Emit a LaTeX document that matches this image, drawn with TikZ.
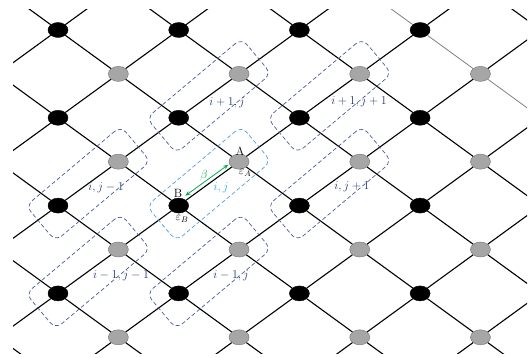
\documentclass[tikz,border=0pt]{standalone}
\usepackage{amsmath}
\usepackage{xcolor}
\usepackage{tikz}
\usetikzlibrary{calc,shapes.geometric,arrows.meta}

\definecolor{dotgray}{RGB}{166,166,166}
\definecolor{dotedge}{RGB}{125,125,125}
\definecolor{boxblue}{RGB}{72,92,150}
\definecolor{lblblue}{RGB}{32,56,120}
\definecolor{ijbox}{RGB}{80,160,220}
\definecolor{ijtext}{RGB}{30,170,230}
\definecolor{betagreen}{RGB}{0,170,80}

\begin{document}
\begin{tikzpicture}[
x=1pt, y=-1pt,
blackdot/.style={draw=black, fill=black, ellipse, minimum width=20pt, minimum height=15pt, inner sep=0pt},
graydot/.style={draw=dotedge, fill=dotgray, ellipse, line width=0.5pt, minimum width=20pt, minimum height=15pt, inner sep=0pt},
gridline/.style={line width=1.1pt},
faintline/.style={line width=0.8pt, draw=black!50},
pairbox/.style={draw=boxblue, dash pattern=on 4pt off 2.5pt, line width=0.7pt, rounded corners=8pt, minimum width=124pt, minimum height=46pt, rotate=40},
lbl/.style={text=lblblue, font=\fontsize{12.5}{14}\selectfont},
tag/.style={font=\fontsize{12}{14}\selectfont},
betaarrow/.style={{Stealth[length=5pt,width=4pt]}-{Stealth[length=5pt,width=4pt]}, draw=betagreen, line width=0.8pt}
]
\useasboundingbox (0,0) rectangle (529,358);

% sites
\foreach \k in {1,3,5,7}
  \foreach \m in {1,3,5,7}
    \node[blackdot] (n-\k-\m) at ({-2.35+60.35*\k},{-13.9+43.9*\m}) {};
\foreach \k in {2,4,6,8}
  \foreach \m in {2,4,6,8}
    \node[graydot] (n-\k-\m) at ({-2.35+60.35*\k},{-13.9+43.9*\m}) {};

% points outside the frame
\foreach \k/\m in {0/0,0/2,0/4,0/6,0/8,2/0,4/0,6/0,8/0,9/1,9/3,9/5,9/7,9/9,1/9,3/9,5/9,7/9}
  \coordinate (n-\k-\m) at ({-2.35+60.35*\k},{-13.9+43.9*\m});

% bonds
\begin{scope}
\clip (13,10) rectangle (527,353);
\foreach \k in {0,...,8}
  \foreach \m in {0,...,8} {
    \pgfmathtruncatemacro\pty{mod(\k+\m,2)}
    \ifnum\pty=0
      \pgfmathtruncatemacro\kk{\k+1}
      \pgfmathtruncatemacro\mm{\m+1}
      \pgfmathtruncatemacro\dd{\m-\k}
      \ifnum\dd=-6
        \draw[faintline] (n-\k-\m) -- (n-\kk-\mm);
      \else
        \draw[gridline] (n-\k-\m) -- (n-\kk-\mm);
      \fi
    \fi
  }
\foreach \k in {0,...,8}
  \foreach \m in {1,...,9} {
    \pgfmathtruncatemacro\pty{mod(\k+\m,2)}
    \ifnum\pty=0
      \pgfmathtruncatemacro\kk{\k+1}
      \pgfmathtruncatemacro\mm{\m-1}
      \draw[gridline] (n-\k-\m) -- (n-\kk-\mm);
    \fi
  }
\end{scope}

% cells
\node[pairbox] (c-i1j) at ($(n-3-3)!0.5!(n-4-2)$) {};
\node[pairbox] (c-i1j1) at ($(n-5-3)!0.5!(n-6-2)$) {};
\node[pairbox] (c-ijm) at ($(n-1-5)!0.5!(n-2-4)$) {};
\node[pairbox, draw=ijbox] (c-ij) at ($(n-3-5)!0.5!(n-4-4)$) {};
\node[pairbox] (c-ijp) at ($(n-5-5)!0.5!(n-6-4)$) {};
\node[pairbox] (c-im1jm1) at ($(n-1-7)!0.5!(n-2-6)$) {};
\node[pairbox] (c-im1j) at ($(n-3-7)!0.5!(n-4-6)$) {};

\node[lbl] (t-i1j) at (227,103) {$i+1,j$};
\node[lbl] (t-i1j1) at (359,102) {$i+1,j+1$};
\node[lbl] (t-ijm) at (106,188) {$i,j-1$};
\node[lbl, text=ijtext] (t-ij) at (221,188) {$i,j$};
\node[lbl] (t-ijp) at (352,187) {$i,j+1$};
\node[lbl] (t-im1jm1) at (121,276) {$i-1,j-1$};
\node[lbl] (t-im1j) at (231,276) {$i-1,j$};

% sites A and B
\node[tag] (t-A) at (240,151) {A};
\node[tag] (t-eA) at (245,173) {$\varepsilon_A$};
\node[tag] (t-B) at (178,193) {B};
\node[tag] (t-eB) at (182,219) {$\varepsilon_B$};
\draw[betaarrow] ([xshift=-0.5pt,yshift=4.5pt]n-3-5.north east) -- ([xshift=-3.5pt,yshift=2.5pt]n-4-4.south west);
\node[tag, text=betagreen] (t-beta) at (204,175) {$\beta$};

\end{tikzpicture}
\end{document}
